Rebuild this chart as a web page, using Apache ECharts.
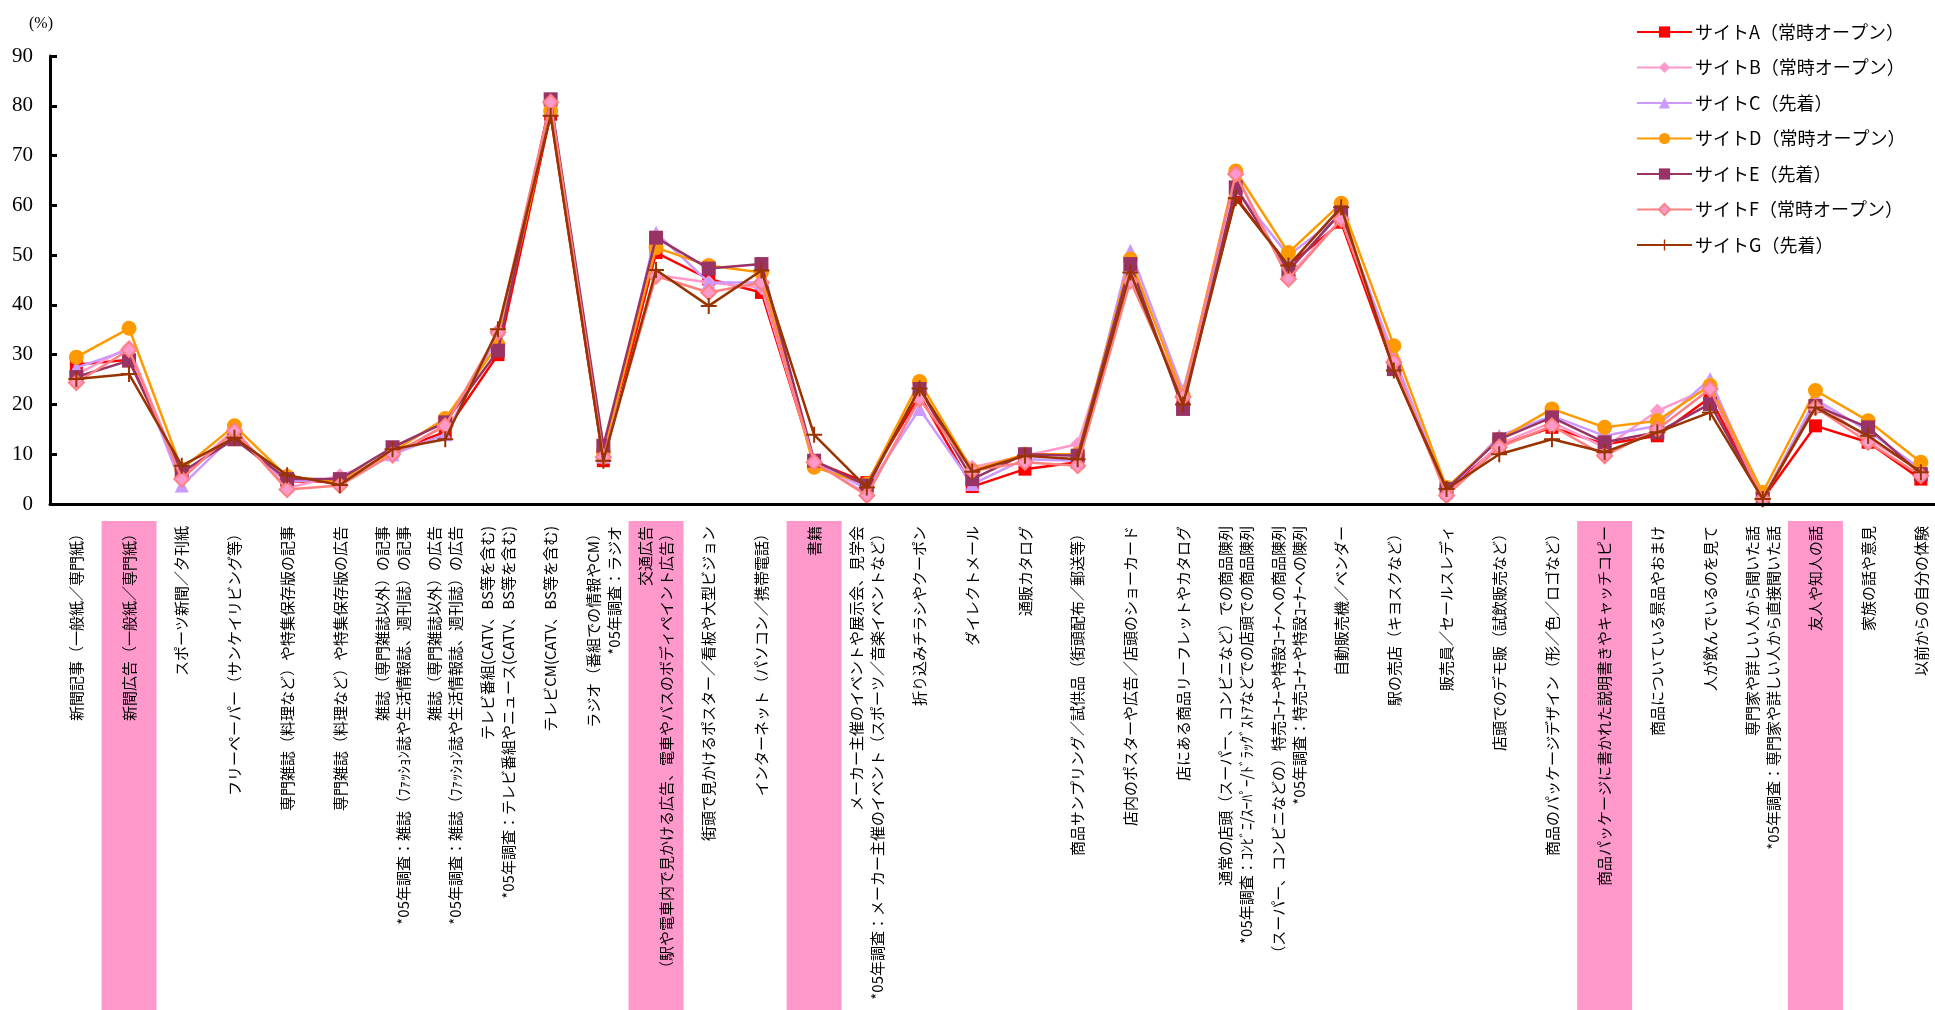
<!DOCTYPE html>
<html>
<head>
<meta charset="utf-8">
<title>情報接触メディア比較</title>
<script src="https://cdn.jsdelivr.net/npm/echarts@6/dist/echarts.min.js"></script>
<style>
  html, body { margin: 0; padding: 0; background: #ffffff; }
  #chart { width: 1935px; height: 1010px; }
</style>
</head>
<body>
<div id="chart"></div>
<script>
// Media / touchpoint categories (x axis)
const categories = [
  '新聞記事（一般紙／専門紙）',
  '新聞広告（一般紙／専門紙）',
  'スポーツ新聞／夕刊紙',
  'フリーペーパー（サンケイリビング等）',
  '専門雑誌（料理など）や特集保存版の記事',
  '専門雑誌（料理など）や特集保存版の広告',
  '雑誌（専門雑誌以外）の記事\n*05年調査：雑誌（ﾌｧｯｼｮﾝ誌や生活情報誌、週刊誌）の記事',
  '雑誌（専門雑誌以外）の広告\n*05年調査：雑誌（ﾌｧｯｼｮﾝ誌や生活情報誌、週刊誌）の広告',
  'テレビ番組(CATV、BS等を含む)\n*05年調査：テレビ番組やニュース(CATV、BS等を含む)',
  'テレビCM(CATV、BS等を含む)',
  'ラジオ（番組での情報やCM）\n*05年調査：ラジオ',
  '交通広告\n（駅や電車内で見かける広告、電車やバスのボディペイント広告）',
  '街頭で見かけるポスター／看板や大型ビジョン',
  'インターネット（パソコン／携帯電話）',
  '書籍',
  'メーカー主催のイベントや展示会、見学会\n*05年調査：メーカー主催のイベント（スポーツ／音楽イベントなど）',
  '折り込みチラシやクーポン',
  'ダイレクトメール',
  '通販カタログ',
  '商品サンプリング／試供品（街頭配布／郵送等）',
  '店内のポスターや広告／店頭のショーカード',
  '店にある商品リーフレットやカタログ',
  '通常の店頭（スーパー、コンビニなど）での商品陳列\n*05年調査：ｺﾝﾋﾞﾆ/ｽｰﾊﾟｰ/ﾄﾞﾗｯｸﾞｽﾄｱなどでの店頭での商品陳列',
  '（スーパー、コンビニなどの）特売ｺｰﾅｰや特設ｺｰﾅｰへの商品陳列\n*05年調査：特売ｺｰﾅｰや特設ｺｰﾅｰへの陳列',
  '自動販売機／ベンダー',
  '駅の売店（キヨスクなど）',
  '販売員／セールスレディ',
  '店頭でのデモ販（試飲販売など）',
  '商品のパッケージデザイン（形／色／ロゴなど）',
  '商品パッケージに書かれた説明書きやキャッチコピー',
  '商品についている景品やおまけ',
  '人が飲んでいるのを見て',
  '専門家や詳しい人から聞いた話\n*05年調査：専門家や詳しい人から直接聞いた話',
  '友人や知人の話',
  '家族の話や意見',
  '以前からの自分の体験'
];

// Categories emphasised with a pink band behind their label (1 = highlighted)
const highlighted = [0,1,0,0,0,0,0,0,0,0,0,1,0,0,1,0,0,0,0,0,0,0,0,0,0,0,0,0,0,1,0,0,0,1,0,0];

// Series names
const seriesNames = [
  'サイトA（常時オープン）',
  'サイトB（常時オープン）',
  'サイトC（先着）',
  'サイトD（常時オープン）',
  'サイトE（先着）',
  'サイトF（常時オープン）',
  'サイトG（先着）'
];

// Percentages per site (%)
const siteA = [28, 29, 6, 13.5, 4.5, 4.5, 10.5, 14.5, 30, 78.3, 8.7, 50.5, 45.2, 42.5, 8.5, 4.3, 21.8, 3.5, 7, 8.4, 45.8, 21, 61.6, 47.9, 56.6, 27.1, 2.5, 11.7, 15.4, 12, 13.7, 21.4, 1, 15.7, 12.4, 5];
const siteB = [26, 31.5, 5.5, 15, 3.2, 5.7, 9.5, 16, 34, 81, 9.5, 46, 44.5, 43.5, 8.4, 2, 21, 7.4, 9.7, 12, 45.2, 21.5, 66.3, 45.8, 57.2, 29.1, 1.7, 12, 16.4, 11.4, 18.7, 23.4, 1, 20.7, 13, 6.7];
const siteC = [27.4, 31, 3.7, 14, 4.5, 5, 10, 14, 33.8, 79.5, 9.5, 54.5, 44.5, 44.5, 8.6, 3, 19.1, 4, 9, 8.7, 50.9, 22.8, 63.3, 49.9, 58, 29.8, 2.3, 13.7, 17.7, 13.7, 15.7, 25.1, 1, 21, 14.7, 7];
const siteD = [29.5, 35.3, 7, 15.7, 5.5, 4.5, 10.5, 17.2, 32, 79, 10.5, 51.5, 47.9, 46.5, 7.4, 4, 24.6, 6.7, 10, 10, 49.2, 21.8, 66.9, 50.5, 60.4, 31.8, 3.3, 13, 19.1, 15.4, 16.7, 23.8, 2.3, 22.8, 16.7, 8.4];
const siteE = [25.5, 28.8, 6.4, 13, 5, 5, 11.4, 16.4, 30.8, 81.3, 11.7, 53.5, 47.3, 48.2, 8.7, 3.7, 23.1, 5, 10, 9.7, 48.2, 19.1, 63.6, 46.9, 58.6, 27.1, 3, 13, 17.4, 12.4, 14.4, 20.1, 1, 19.7, 15.4, 6];
const siteF = [24.4, 31, 5, 14.7, 2.9, 3.7, 10, 15.7, 34.5, 80.7, 9.4, 45.8, 42.5, 44.5, 8.4, 1.7, 21.1, 6.7, 8.4, 7.7, 44.8, 21.5, 66.3, 45.2, 57.2, 28.5, 1.7, 11.4, 15.7, 9.7, 15, 23.1, 1, 19.4, 12.4, 5.7];
const siteG = [25.1, 26.1, 7.7, 13.3, 5.8, 3.8, 11, 13, 35.1, 78, 8.7, 47, 39.8, 46.9, 13.9, 3.3, 23.2, 6.5, 9.7, 9, 46.5, 20, 61.4, 47.9, 59.6, 26.8, 3, 10, 13, 10.4, 14.4, 18.4, 1, 19.4, 13.7, 6.4];

// Y axis scale
const yMin = 0;
const yMax = 90;
const yStep = 10;

const plusSymbol = 'path://M0,7L16,7L16,9L0,9Z M7,0L9,0L9,16L7,16Z';

const styles = [
  { color: '#FF0000', symbol: 'rect', size: 13 },
  { color: '#FF99CC', symbol: 'diamond', size: 15 },
  { color: '#CC99FF', symbol: 'triangle', size: 14 },
  { color: '#FF9900', symbol: 'circle', size: 15 },
  { color: '#993366', symbol: 'rect', size: 14 },
  { color: '#FF8080', symbol: 'diamond', size: 15, fill: '#FF99CC', border: '#FF8080' },
  { color: '#993300', symbol: plusSymbol, size: 16 }
];

const seriesData = [siteA, siteB, siteC, siteD, siteE, siteF, siteG];

const lineSeries = seriesData.map((values, i) => {
  const s = styles[i];
  return {
    name: seriesNames[i],
    type: 'line',
    xAxisIndex: 0,
    yAxisIndex: 0,
    data: values,
    symbol: s.symbol,
    symbolSize: s.size,
    showAllSymbol: true,
    lineStyle: { color: s.color, width: 2.5 },
    itemStyle: s.fill
      ? { color: s.fill, borderColor: s.border, borderWidth: 2 }
      : { color: s.color, borderWidth: 0 },
    emphasis: { disabled: true },
    z: 3 + i
  };
});

const chart = echarts.init(document.getElementById('chart'), null, { renderer: 'canvas' });

const categoryWidth = 52.7;
const gridLeft = 50;
const gridWidth = categoryWidth * categories.length;

chart.setOption({
  animation: false,
  backgroundColor: '#ffffff',
  title: {
    text: '(%)',
    left: 24,
    top: 11,
    textStyle: { fontFamily: 'Liberation Serif', fontSize: 16, fontWeight: 'normal', color: '#000' }
  },
  legend: {
    orient: 'vertical',
    left: 1631,
    top: 17,
    data: seriesNames,
    itemWidth: 55,
    itemHeight: 14,
    itemGap: 15.5,
    selectedMode: false,
    textStyle: { fontFamily: 'Noto Sans CJK JP', fontSize: 18, color: '#000', lineHeight: 20, padding: [0, 0, 0, -2] }
  },
  grid: [
    { left: gridLeft, top: 56, width: gridWidth, height: 448, containLabel: false, outerBoundsMode: 'none' },
    { left: gridLeft, top: 521, width: gridWidth, bottom: 0, containLabel: false, outerBoundsMode: 'none' }
  ],
  xAxis: [
    {
      type: 'category',
      gridIndex: 0,
      data: categories,
      boundaryGap: true,
      z: 10,
      axisLine: { show: true, lineStyle: { color: '#000', width: 3 } },
      axisTick: { show: false },
      splitLine: { show: false },
      axisLabel: {
        interval: 0,
        rotate: 90,
        margin: 22,
        fontFamily: 'Noto Sans CJK JP',
        fontSize: 15,
        lineHeight: 21,
        color: '#000'
      }
    },
    {
      type: 'category',
      gridIndex: 1,
      data: categories,
      boundaryGap: true,
      show: false
    }
  ],
  yAxis: [
    {
      type: 'value',
      gridIndex: 0,
      min: yMin,
      max: yMax,
      interval: yStep,
      axisLine: { show: true, lineStyle: { color: '#000', width: 3 } },
      axisTick: { show: true, inside: true, length: 7, lineStyle: { color: '#000', width: 3 } },
      splitLine: { show: false },
      axisLabel: {
        margin: 17,
        fontFamily: 'Liberation Serif',
        fontSize: 21,
        color: '#000'
      }
    },
    {
      type: 'value',
      gridIndex: 1,
      min: 0,
      max: 1,
      show: false
    }
  ],
  series: [
    {
      name: 'highlight',
      type: 'bar',
      xAxisIndex: 1,
      yAxisIndex: 1,
      data: highlighted,
      barWidth: 55,
      itemStyle: { color: '#FF99CC' },
      silent: true,
      z: 1
    }
  ].concat(lineSeries)
});
</script>
</body>
</html>
